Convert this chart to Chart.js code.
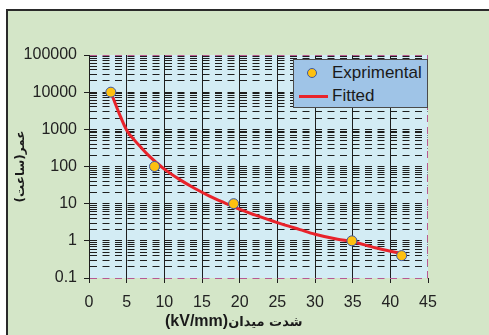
<!DOCTYPE html>
<html lang="fa">
<head>
  <meta charset="UTF-8">
  <title>Life vs Field Strength</title>
  <script src="https://cdn.jsdelivr.net/npm/chart.js"></script>
  <style>
    body, html {
      margin: 0;
      padding: 0;
      background: #ffffff;
      width: 489px;
      height: 335px;
      overflow: hidden;
      font-family: Arial, "Liberation Sans", sans-serif;
    }
    #frame {
      position: absolute;
      left: 6px;
      top: 9px;
      width: 500px;
      height: 340px;
      background: #d4e6c8;
      border-left: 2px solid #2a2a2a;
      border-top: 2px solid #2a2a2a;
    }
    #wrap {
      position: absolute;
      left: 0;
      top: 0;
      width: 489px;
      height: 335px;
    }
    #legend {
      position: absolute;
      left: 293px;
      top: 59px;
      width: 133px;
      height: 47px;
      background: #9fc4e7;
      border: 1px solid #4a4a4a;
      font-size: 17px;
      color: #1a1a1a;
    }
    .row {
      position: absolute;
      left: 38px;
      line-height: 20px;
    }
    .dot {
      position: absolute;
      left: 13px;
      top: 8px;
      width: 10px;
      height: 10px;
      border-radius: 50%;
      background: #fdc010;
      border: 1px solid #3b58a6;
      box-sizing: border-box;
    }
    .seg {
      position: absolute;
      left: 5px;
      top: 35px;
      width: 29px;
      height: 3px;
      background: #e8232b;
    }
  </style>
</head>
<body>
  <div id="frame"></div>
  <div id="wrap"><canvas id="chart" width="489" height="335"></canvas></div>
  <div id="legend">
    <div class="dot"></div>
    <div class="row" style="top:3px">Exprimental</div>
    <div class="seg"></div>
    <div class="row" style="top:26px">Fitted</div>
  </div>

  <script>
    // measured points
    var expX = [2.9, 8.7, 19.2, 34.9, 41.5];
    var expY = [10000, 100, 10, 1, 0.4];

    // fitted curve
    var fitX = [2.9, 4, 5, 6, 7, 8, 9, 10, 12, 14, 16, 18, 20, 22, 25, 28, 30, 33, 35, 38, 41.5];
    var fitY = [10000, 2700, 950, 520, 310, 190, 125, 85, 45, 26, 16, 10.5, 7, 5, 3.1, 2.0, 1.5, 1.1, 0.95, 0.65, 0.45];

    // y tick values (decades) and x range
    var decades = [0.1, 1, 10, 100, 1000, 10000, 100000];
    var xTicks = [0, 5, 10, 15, 20, 25, 30, 35, 40, 45];

    function toPoints(xs, ys) {
      var out = [];
      for (var i = 0; i < xs.length; i++) out.push({x: xs[i], y: ys[i]});
      return out;
    }

    var plotBg = {
      id: 'plotBg',
      beforeDraw: function(chart) {
        var a = chart.chartArea, ctx = chart.ctx;
        ctx.save();
        ctx.fillStyle = '#d3ecf4';
        ctx.fillRect(a.left, a.top, a.right - a.left, a.bottom - a.top);
        ctx.restore();
      },
      afterDraw: function(chart) {
        var a = chart.chartArea, ctx = chart.ctx;
        ctx.save();
        // dashed right edge
        ctx.strokeStyle = '#b85a92';
        ctx.lineWidth = 1;
        ctx.setLineDash([7, 5]);
        ctx.beginPath();
        ctx.moveTo(a.right - 0.5, a.top);
        ctx.lineTo(a.right - 0.5, a.bottom);
        ctx.stroke();
        ctx.setLineDash([]);

        // x axis title, left of centre like the original
        ctx.fillStyle = '#1a1a1a';
        ctx.textBaseline = 'middle';
        ctx.textAlign = 'left';
        ctx.font = 'bold 16px Arial';
        var part1 = '(kV/mm)';
        ctx.fillText(part1, 165, 322);
        var w = ctx.measureText(part1).width;
        ctx.font = "bold 13px 'DejaVu Sans'";
        ctx.fillText('شدت میدان', 165 + w, 323);
        ctx.restore();
      }
    };

    var ctx = document.getElementById('chart').getContext('2d');
    var chart = new Chart(ctx, {
      type: 'scatter',
      data: {
        datasets: [
          {
            label: 'Exprimental',
            data: toPoints(expX, expY),
            backgroundColor: '#fdc010',
            borderColor: '#3b58a6',
            borderWidth: 1,
            pointRadius: 5,
            order: 1
          },
          {
            label: 'Fitted',
            type: 'line',
            data: toPoints(fitX, fitY),
            borderColor: '#e8232b',
            borderWidth: 3,
            pointRadius: 0,
            cubicInterpolationMode: 'monotone',
            fill: false,
            order: 2
          }
        ]
      },
      options: {
        responsive: false,
        animation: false,
        events: [],
        layout: { padding: { left: 0, right: 61, top: 55, bottom: 0 } },
        plugins: {
          legend: { display: false },
          tooltip: { enabled: false }
        },
        scales: {
          x: {
            type: 'linear',
            min: 0,
            max: 45,
            afterBuildTicks: function(scale) {
              scale.ticks = xTicks.map(function(v) { return {value: v}; });
            },
            afterFit: function(scale) { scale.height = 57; },
            border: { display: false },
            grid: {
              color: function(c) {
                if (c.tick && c.tick.value === 45) return 'rgba(0,0,0,0)';
                return '#1e1e1e';
              },
              tickColor: '#1e1e1e',
              lineWidth: 1,
              tickLength: 5
            },
            ticks: {
              color: '#222',
              font: { family: 'Arial', size: 16 },
              padding: 10,
              maxRotation: 0
            },
            title: { display: false }
          },
          y: {
            type: 'logarithmic',
            min: 0.1,
            max: 100000,
            afterBuildTicks: function(scale) {
              var t = [];
              for (var d = 0; d < decades.length; d++) {
                t.push({value: decades[d], major: true});
                if (d < decades.length - 1) {
                  for (var m = 2; m <= 9; m++) {
                    t.push({value: Math.round(decades[d] * m * 10) / 10, major: false});
                  }
                }
              }
              scale.ticks = t;
            },
            afterFit: function(scale) { scale.width = 89; },
            border: { display: true, color: '#1e1e1e', width: 1, dash: [7, 5.5] },
            grid: {
              color: function(c) {
                if (!c.tick) return '#1e1e1e';
                if (c.tick.value === 100000 || c.tick.value === 0.1) return '#b85a92';
                return '#1e1e1e';
              },
              tickColor: function(c) {
                return (c.tick && decades.indexOf(c.tick.value) >= 0) ? '#1e1e1e' : 'rgba(0,0,0,0)';
              },
              lineWidth: 1,
              tickLength: 5
            },
            ticks: {
              color: '#222',
              font: { family: 'Arial', size: 16 },
              padding: 7,
              autoSkip: false,
              callback: function(v) {
                return decades.indexOf(v) >= 0 ? String(v) : '';
              }
            },
            title: {
              display: true,
              text: 'عمر(ساعت)',
              color: '#1a1a1a',
              font: { family: "'DejaVu Sans'", size: 12, weight: 'bold' },
              padding: { top: 14, bottom: 0 }
            }
          }
        }
      },
      plugins: [plotBg]
    });
  </script>
</body>
</html>
